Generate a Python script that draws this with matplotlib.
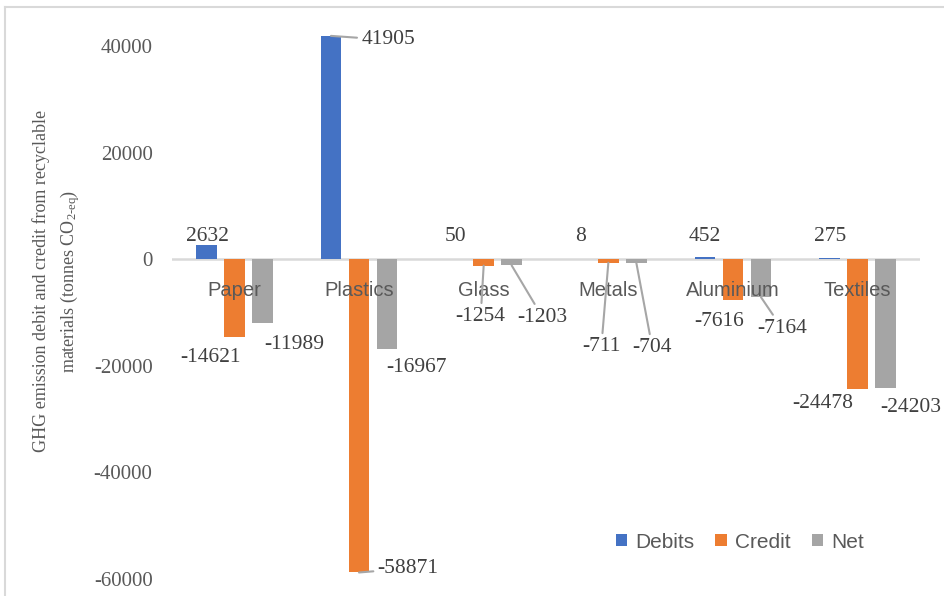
#!/usr/bin/env python3
"""
plot.py  --  GHG emission debit / credit from recyclable materials.

Grouped bar chart (Debits, Credit, Net) per material, with data labels.
"""

import matplotlib
matplotlib.use("Agg")
import matplotlib.pyplot as plt
from matplotlib.lines import Line2D
from matplotlib.patches import Patch
import numpy as np

# ---------------------------------------------------------------------------
# Data
# ---------------------------------------------------------------------------

MATERIALS = ["Paper", "Plastics", "Glass", "Metals", "Aluminium", "Textiles"]
DEBITS = [2632, 41905, 50, 8, 452, 275]
CREDIT = [-14621, -58871, -1254, -711, -7616, -24478]
NET = [-11989, -16967, -1203, -704, -7164, -24203]

SERIES_NAMES = ["Debits", "Credit", "Net"]
Y_TICKS = [-60000, -40000, -20000, 0, 20000, 40000]

# ---------------------------------------------------------------------------
# Style
# ---------------------------------------------------------------------------

COLORS = ["#4472C4", "#ED7D31", "#A5A5A5"]
SERIF = "Liberation Serif"
SANS = "Liberation Sans"
LEADER = "#A6A6A6"

BAR_W = 0.168
BAR_STEP = 0.2245

# label offsets (pixels, from bar end) and whether a leader line is drawn
LABEL_OFFSETS = [
    [(1, 8), (57, -4), (0, 22), (0, 22), (0, 20), (0, 21)],
    [(-24, -21), (49, 4), (-3, -51), (-7, -84), (-14, -22), (-35, -14)],
    [(32, -22), (30, -18), (31, -52), (16, -85), (21, -31), (25, -20)],
]
LEADERS = [
    [False, True, False, False, False, False],
    [False, True, True, True, False, False],
    [False, False, True, True, True, False],
]

W, H = 944, 596


def main():
    plt.rcParams["mathtext.fontset"] = "custom"
    plt.rcParams["mathtext.rm"] = SERIF
    plt.rcParams["mathtext.it"] = SERIF + ":italic"

    fig = plt.figure(figsize=(W / 100, H / 100), dpi=100)
    ax = fig.add_axes([172 / W, 1 - 578.5 / H, (920 - 172) / W, (578.5 - 19.4) / H])

    x = np.arange(len(MATERIALS))
    all_series = [DEBITS, CREDIT, NET]

    for k, (vals, col) in enumerate(zip(all_series, COLORS)):
        xs = x + (k - 1) * BAR_STEP
        ax.bar(xs, vals, width=BAR_W, color=col, zorder=2)
        for i, v in enumerate(vals):
            dx, dy = LABEL_OFFSETS[k][i]
            arrow = None
            if LEADERS[k][i]:
                arrow = dict(arrowstyle="-", color=LEADER, lw=1.5,
                             shrinkA=1, shrinkB=0)
            ax.annotate(f"{v}", xy=(xs[i], v), xytext=(dx, dy),
                        textcoords="offset pixels", ha="center", va="center",
                        fontsize=15.5, family=SERIF, color="#404040",
                        arrowprops=arrow, zorder=4)

    # zero line + category names just under it
    ax.axhline(0, color="#D9D9D9", lw=1.8, zorder=1)
    for i, name in enumerate(MATERIALS):
        ax.annotate(name, xy=(x[i], 0), xytext=(0, -31),
                    textcoords="offset pixels", ha="center", va="center",
                    fontsize=14.5, family=SANS, color="#595959", zorder=3)

    ax.set_xlim(-0.5, len(MATERIALS) - 0.5)
    ax.set_ylim(-60000, 45000)
    ax.set_xticks([])
    ax.set_yticks(Y_TICKS)
    ax.set_yticklabels([str(t) for t in Y_TICKS], family=SERIF, fontsize=15,
                       color="#595959")
    ax.tick_params(axis="y", length=0, pad=14)
    for s in ax.spines.values():
        s.set_visible(False)

    fig.text(57 / W, 1 - 281 / H,
             "GHG emission debit and credit from recyclable\n"
             r"materials (tonnes CO$_{\text{2-eq}}$)",
             rotation=90, ha="center", va="center", multialignment="center",
             fontsize=13, family=SERIF, color="#595959", linespacing=1.45)

    handles = [Patch(facecolor=c, edgecolor="none") for c in COLORS]
    fig.legend(handles, SERIES_NAMES, loc="center",
               bbox_to_anchor=(740 / W, 1 - 542 / H), ncol=3, frameon=False,
               prop={"family": SANS, "size": 15}, labelcolor="#595959",
               handlelength=0.55, handleheight=0.55, handletextpad=0.4,
               columnspacing=1.0)

    # chart-area border (only top and left are visible in the crop)
    fig.add_artist(Line2D([5 / W, 1], [1 - 7 / H] * 2, color="#D9D9D9", lw=1.5))
    fig.add_artist(Line2D([5 / W] * 2, [0, 1 - 7 / H], color="#D9D9D9", lw=1.5))

    fig.savefig("out.png", dpi=100)
    plt.close(fig)


if __name__ == "__main__":
    main()
